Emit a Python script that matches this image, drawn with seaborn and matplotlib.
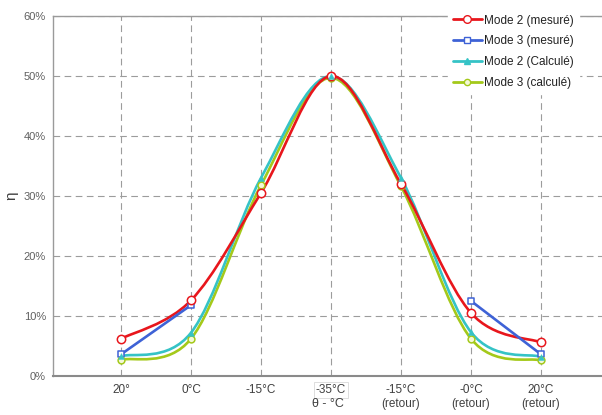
import numpy as np
import pandas as pd
import matplotlib
matplotlib.use('Agg')
import matplotlib.pyplot as plt
from matplotlib.path import Path
from matplotlib.patches import PathPatch
from matplotlib.lines import Line2D
import seaborn as sns

# --- data ---
categories = ['20°', '0°C', '-15°C', '-35°C', '-15°C\n(retour)', '-0°C\n(retour)', '20°C\n(retour)']
mode2_mesure = [6.2, 12.6, 30.5, 50.0, 32.0, 10.5, 5.6]
mode3_mesure = [3.6, 11.8, np.nan, np.nan, np.nan, 12.5, 3.6]
mode2_calcule = [3.3, 7.2, 33.0, 50.0, 33.0, 7.3, 3.2]
mode3_calcule = [2.7, 6.2, 31.8, 49.7, 31.6, 6.2, 2.6]

RED = '#e8161c'
BLUE = '#3e62d6'
CYAN = '#35c3c6'
LIME = '#a4c91a'
GRID = '#9c9c9c'
TXT = '#404040'

sns.set_style("white")
plt.rcParams['font.family'] = ['Liberation Sans', 'DejaVu Sans']

fig = plt.figure(figsize=(6.02, 4.15), dpi=100)
ax = fig.add_axes([53/602, 39/415, 549/602, 360/415])
x = np.arange(len(categories))


def smooth_path(xs, ys):
    # Excel-like smoothed line drawn as cubic Bezier segments
    p = np.column_stack([xs, ys]).astype(float)
    n = len(p)
    verts = [p[0]]
    codes = [Path.MOVETO]
    for i in range(n - 1):
        p0 = p[i - 1] if i > 0 else p[i]
        p1, p2 = p[i], p[i + 1]
        p3 = p[i + 2] if i + 2 < n else p[i + 1]
        c1 = p1 + (p2 - p0) / 6.0
        c2 = p2 - (p3 - p1) / 6.0
        verts += [c1, c2, p2]
        codes += [Path.CURVE4] * 3
    return Path(verts, codes)


for ys, col in [(mode3_calcule, LIME), (mode2_calcule, CYAN), (mode2_mesure, RED)]:
    ax.add_patch(PathPatch(smooth_path(x, ys), facecolor='none', edgecolor=col, lw=1.9, zorder=3))

ax.plot(x, mode3_mesure, color=BLUE, lw=1.9, zorder=3)

df = pd.DataFrame({'x': x, 'm2': mode2_mesure, 'm3': mode3_mesure,
                   'c2': mode2_calcule, 'c3': mode3_calcule})
sns.scatterplot(data=df, x='x', y='m3', marker='s', s=24, facecolor='white',
                edgecolor=BLUE, linewidth=1.1, ax=ax, zorder=4)
sns.scatterplot(data=df, x='x', y='c3', marker='o', s=24, facecolor='#f4f8d8',
                edgecolor=LIME, linewidth=1.1, ax=ax, zorder=4)
sns.scatterplot(data=df, x='x', y='c2', marker='^', s=18, color=CYAN,
                edgecolor=CYAN, ax=ax, zorder=5)
sns.scatterplot(data=df, x='x', y='m2', marker='o', s=36, facecolor='white',
                edgecolor=RED, linewidth=1.1, ax=ax, zorder=4)

ax.set_xlim(-0.97, 6.87)
ax.set_ylim(0, 60)
ax.set_xticks(x)
ax.set_xticklabels(categories, fontsize=8.5, color=TXT)
ax.set_yticks(range(0, 61, 10))
ax.set_yticklabels([f'{v}%' for v in range(0, 61, 10)], fontsize=8, color='#606060')
ax.tick_params(axis='y', length=3, color=GRID, pad=2)
ax.tick_params(axis='x', length=0, pad=6)
for lbl in ax.get_xticklabels():
    if lbl.get_text() == '-35°C':
        lbl.set_bbox(dict(facecolor='white', edgecolor='#d8d8d8', lw=0.6, pad=1.5))

ax.grid(True, color=GRID, ls=(0, (6, 4)), lw=0.8)
ax.set_axisbelow(True)
for side in ['left', 'bottom', 'top']:
    ax.spines[side].set_color('#9a9a9a')
    ax.spines[side].set_linewidth(1.0)
ax.spines['bottom'].set_linewidth(1.5)
ax.spines['bottom'].set_color('#8a8a8a')
ax.spines['right'].set_visible(False)

ax.set_xlabel('θ - °C', fontsize=9, color=TXT, labelpad=-9)
ax.set_ylabel('η', fontsize=11, color=TXT, labelpad=4)

handles = [
    Line2D([], [], color=RED, lw=2, marker='o', ms=5.5, mfc='white', mec=RED),
    Line2D([], [], color=BLUE, lw=2, marker='s', ms=4.5, mfc='white', mec=BLUE),
    Line2D([], [], color=CYAN, lw=2, marker='^', ms=4, mfc=CYAN, mec=CYAN),
    Line2D([], [], color=LIME, lw=2, marker='o', ms=4.5, mfc='#f4f8d8', mec=LIME),
]
labels = ['Mode 2 (mesuré)', 'Mode 3 (mesuré)', 'Mode 2 (Calculé)', 'Mode 3 (calculé)']
leg = fig.legend(handles, labels, loc='upper left', bbox_to_anchor=(442/602, 1 - 4/415),
                 frameon=True, fancybox=False, framealpha=1, edgecolor='white',
                 fontsize=8.5, handlelength=2.5, handletextpad=0.2, labelspacing=0.75,
                 borderpad=0.4)
for t in leg.get_texts():
    t.set_color('#222222')

fig.savefig('out.png', dpi=100)
